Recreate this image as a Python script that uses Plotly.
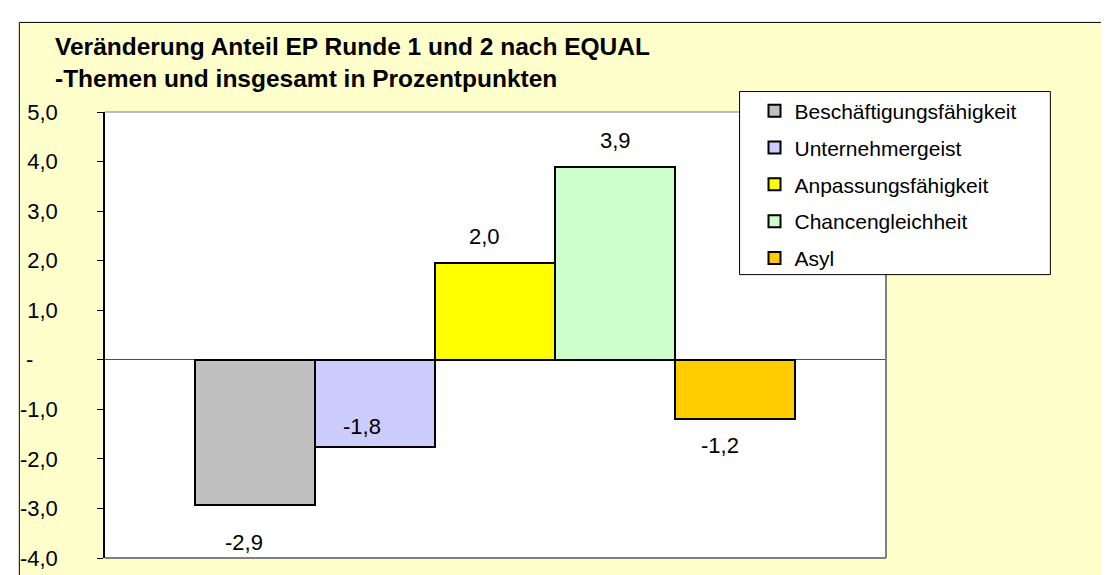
import plotly.graph_objects as go

# ---- data ----
categories = ["Beschäftigungsfähigkeit", "Unternehmergeist", "Anpassungsfähigkeit",
              "Chancengleichheit", "Asyl"]
values = [-2.94, -1.76, 1.96, 3.89, -1.2]
colors = ["#C0C0C0", "#CCCCFF", "#FFFF00", "#CCFFCC", "#FFCC00"]
tick_values = [5, 4, 3, 2, 1, 0, -1, -2, -3, -4]
NB = "\u00a0"
tick_labels = ["5,0", "4,0", "3,0", "2,0", "1,0", "-" + NB * 4,
               "-1,0", "-2,0", "-3,0", "-4,0"]
title_lines = ["Veränderung Anteil EP Runde 1 und 2 nach EQUAL",
               "-Themen und insgesamt in Prozentpunkten"]

# label offsets (px) relative to the bar end
label_dx = [-11, -13, -11, 0, -15]
label_dy = [-37, 21, 26, 27, -26]

W, H = 1109, 575
L, R, T, B = 94, 878, 104, 562
FONT = "Liberation Sans, Arial, sans-serif"
BG = "#FFFFCC"


def px_x(px):
    return (px - L) / (R - L)


def px_y(py):
    return (B - py) / (B - T)


fig = go.Figure()
for i, (cat, val, col) in enumerate(zip(categories, values, colors)):
    fig.add_trace(go.Bar(
        x=[cat], y=[val], name=cat, legendgroup=f"g{i}",
        marker=dict(color=col, line=dict(color="black", width=2)),
        hoverinfo="skip",
    ))

annotations = []
for cat, val, dx, dy in zip(categories, values, label_dx, label_dy):
    annotations.append(dict(
        x=cat, y=val, xref="x", yref="y", text=f"{val:.1f}".replace(".", ","),
        showarrow=False, xshift=dx, yshift=dy, yanchor="middle",
        font=dict(family=FONT, size=22, color="black"),
    ))

annotations.append(dict(
    x=px_x(42), y=px_y(37), xref="paper", yref="paper", text=f"<b>{title_lines[0]}</b>",
    showarrow=False, xanchor="left", yanchor="middle",
    font=dict(family=FONT, size=24.5, color="black")))
annotations.append(dict(
    x=px_x(42), y=px_y(70), xref="paper", yref="paper", text=f"<b>{title_lines[1]}</b>",
    showarrow=False, xanchor="left", yanchor="middle",
    font=dict(family=FONT, size=24.5, color="black")))

shapes = [
    # white margin strips outside the chart border
    dict(type="rect", xref="paper", yref="paper", x0=px_x(-5), x1=px_x(8),
         y0=px_y(600), y1=px_y(-5), fillcolor="white", line=dict(width=0), layer="below"),
    dict(type="rect", xref="paper", yref="paper", x0=px_x(-5), x1=px_x(1120),
         y0=px_y(12), y1=px_y(-5), fillcolor="white", line=dict(width=0), layer="below"),
    # chart border
    dict(type="line", xref="paper", yref="paper", x0=px_x(8), x1=px_x(8),
         y0=px_y(12), y1=px_y(600), line=dict(color="black", width=1)),
    dict(type="line", xref="paper", yref="paper", x0=px_x(8), x1=px_x(1120),
         y0=px_y(12), y1=px_y(12), line=dict(color="black", width=1)),
    # plot area border (grey)
    dict(type="line", xref="paper", yref="paper", x0=0, x1=1, y0=1, y1=1,
         line=dict(color="#808080", width=1)),
    dict(type="line", xref="paper", yref="paper", x0=1, x1=1, y0=0, y1=1,
         line=dict(color="#808080", width=2)),
    dict(type="line", xref="paper", yref="paper", x0=0, x1=1, y0=0, y1=0,
         line=dict(color="#808080", width=2)),
    # legend box
    dict(type="rect", xref="paper", yref="paper", x0=px_x(731), x1=px_x(1043),
         y0=px_y(271), y1=px_y(83), fillcolor="white",
         line=dict(color="black", width=1), layer="above"),
]

fig.update_layout(
    width=W, height=H,
    margin=dict(l=L, r=W - R, t=T, b=H - B, pad=0),
    paper_bgcolor=BG, plot_bgcolor="white",
    barmode="overlay", bargap=0,
    showlegend=True,
    legend=dict(x=px_x(746), y=px_y(82), xanchor="left", yanchor="top",
                bgcolor="rgba(0,0,0,0)", borderwidth=0,
                font=dict(family=FONT, size=21, color="black"),
                tracegroupgap=6.5, traceorder="grouped", itemwidth=30),
    xaxis=dict(type="category", categoryorder="array", categoryarray=categories,
               range=[-1.246, 5.254], showticklabels=False, showgrid=False,
               zeroline=False, showline=False, ticks=""),
    yaxis=dict(range=[-4, 5], tickvals=tick_values, ticktext=tick_labels,
               showgrid=False, zeroline=True, zerolinecolor="#505050", zerolinewidth=1,
               showline=True, linecolor="black", linewidth=1.5,
               ticks="outside", ticklen=6, tickcolor="black", tickwidth=1,
               ticklabelstandoff=35,
               tickfont=dict(family=FONT, size=22, color="black")),
    annotations=annotations,
    shapes=shapes,
    font=dict(family=FONT),
)

fig.write_html("out.html")
